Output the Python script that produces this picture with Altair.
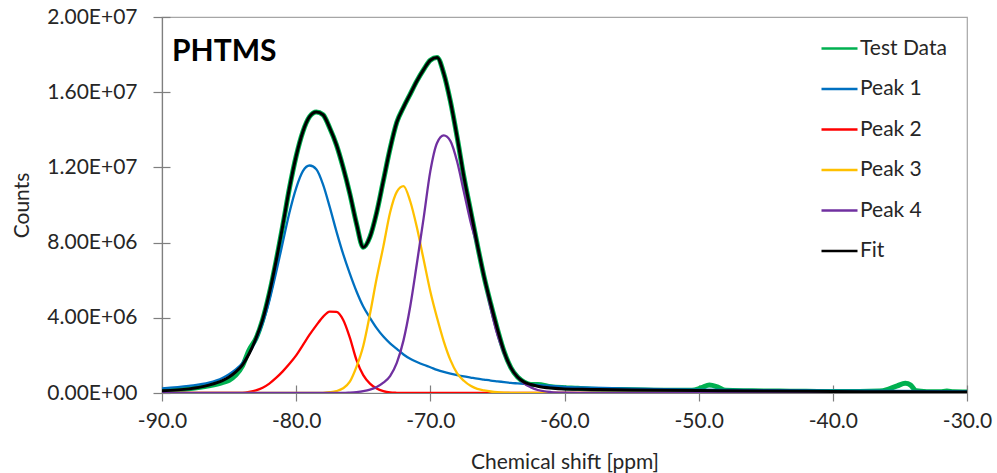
import altair as alt
import pandas as pd

# ---- data (counts in millions) ----
shift_ppm = [-90, -88, -86.5, -85.5, -85, -84.5, -84, -83.5, -83, -82.5,
             -82, -81.5, -81, -80.5, -80, -79.5, -79, -78.5, -78, -77.5,
             -77, -76.5, -76, -75.5, -75, -74.5, -74, -73.5, -73, -72.5,
             -72, -71.5, -71, -70.5, -70, -69.5, -69, -68.5, -68, -67.5,
             -67, -66.5, -66, -65.5, -65, -64.5, -64, -63.5, -63, -62.5,
             -62, -61, -60, -58, -55, -50, -45, -40, -35, -30]

peak1 = [0.25, 0.38, 0.55, 0.8, 1.0, 1.25, 1.6, 2.1, 2.8, 3.7,
         4.9, 6.4, 8.0, 9.6, 10.9, 11.8, 12.1, 11.9, 11.1, 9.9,
         8.6, 7.4, 6.35, 5.4, 4.6, 4.0, 3.45, 3.0, 2.64, 2.35,
         2.05, 1.82, 1.65, 1.5, 1.37, 1.23, 1.12, 1.03, 0.95, 0.88,
         0.82, 0.76, 0.71, 0.66, 0.62, 0.58, 0.54, 0.51, 0.48, 0.45,
         0.43, 0.38, 0.33, 0.29, 0.23, 0.18, 0.15, 0.13, 0.11, 0.09]

peak2 = [0, 0, 0, 0, 0, 0, 0.01, 0.06, 0.14, 0.28,
         0.5, 0.8, 1.15, 1.55, 2.0, 2.55, 3.1, 3.6, 4.05, 4.33,
         4.32, 3.9, 2.95, 1.75, 0.95, 0.5, 0.24, 0.1, 0.03, 0.01,
         0, 0, 0, 0, 0, 0, 0, 0, 0, 0,
         0, 0, 0, 0, 0, 0, 0, 0, 0, 0,
         0, 0, 0, 0, 0, 0, 0, 0, 0, 0]

peak3 = [0, 0, 0, 0, 0, 0, 0, 0, 0, 0,
         0, 0, 0, 0, 0, 0, 0, 0, 0.01, 0.04,
         0.1, 0.25, 0.6, 1.4, 2.5, 4.2, 6.1, 7.8, 9.6, 10.7,
         11.0, 10.2, 8.8, 7.1, 5.4, 4.0, 2.75, 1.75, 1.05, 0.65,
         0.38, 0.22, 0.14, 0.08, 0.04, 0.02, 0.01, 0, 0, 0,
         0, 0, 0, 0, 0, 0, 0, 0, 0, 0]

peak4 = [0, 0, 0, 0, 0, 0, 0, 0, 0, 0,
         0, 0, 0, 0, 0, 0, 0, 0, 0, 0,
         0, 0, 0.02, 0.05, 0.1, 0.18, 0.32, 0.55, 0.9, 1.6,
         2.8, 4.6, 6.9, 9.3, 11.8, 13.3, 13.7, 13.4, 12.3, 10.7,
         9.1, 7.8, 6.2, 4.5, 3.1, 2.1, 1.35, 0.85, 0.5, 0.3,
         0.16, 0.05, 0.02, 0, 0, 0, 0, 0, 0, 0]

fit = [0.12, 0.22, 0.42, 0.66, 0.85, 1.12, 1.5, 2.1, 2.9, 3.9,
       5.3, 7.0, 8.9, 10.9, 12.6, 13.9, 14.7, 14.95, 14.8, 14.1,
       13.2, 12.0, 10.6, 9.0, 7.75, 8.3, 9.6, 11.3, 13.0, 14.4,
       15.2, 15.9, 16.6, 17.2, 17.7, 17.85, 17.0, 15.5, 13.6, 11.5,
       9.7, 7.9, 6.2, 4.75, 3.4, 2.2, 1.35, 0.85, 0.58, 0.45,
       0.36, 0.26, 0.21, 0.19, 0.16, 0.13, 0.1, 0.08, 0.06, 0.05]

test_ppm = [-90, -88, -86.5, -85.5, -85, -84.5, -84, -83.5, -83, -82.5,
            -82, -81.5, -81, -80.5, -80, -79.5, -79, -78.5, -78, -77.5,
            -77, -76.5, -76, -75.5, -75, -74.5, -74, -73.5, -73, -72.5,
            -72, -71.5, -71, -70.5, -70, -69.5, -69, -68.5, -68, -67.5,
            -67, -66.5, -66, -65.5, -65, -64.5, -64, -63.5, -63, -62.5,
            -62, -61, -60, -59, -58, -56, -54, -52, -50.5, -49.8,
            -49.2, -48.6, -48, -46, -44, -42, -40, -38, -36.5, -35.8,
            -35.2, -34.6, -34.2, -33.8, -33, -32, -31.5, -31, -30]

test_data = [0.12, 0.22, 0.38, 0.55, 0.68, 0.95, 1.45, 2.3, 2.9, 3.9,
             5.3, 7.0, 8.9, 10.9, 12.6, 13.9, 14.7, 14.95, 14.8, 14.1,
             13.2, 12.0, 10.6, 9.0, 7.75, 8.3, 9.6, 11.3, 13.0, 14.4,
             15.2, 15.9, 16.6, 17.2, 17.7, 17.85, 17.0, 15.5, 13.6, 11.5,
             9.7, 7.9, 6.2, 4.75, 3.4, 2.2, 1.35, 0.85, 0.58, 0.45,
             0.45, 0.33, 0.28, 0.25, 0.2, 0.18, 0.16, 0.14, 0.14, 0.28,
             0.42, 0.32, 0.14, 0.12, 0.1, 0.09, 0.08, 0.08, 0.1, 0.22,
             0.38, 0.52, 0.42, 0.12, 0.07, 0.06, 0.1, 0.06, 0.05]

series_names = ["Test Data", "Peak 1", "Peak 2", "Peak 3", "Peak 4", "Fit"]
series_colors = ["#00B050", "#0070C0", "#FF0000", "#FFC000", "#7030A0", "#000000"]
x_ticks = [-90, -80, -70, -60, -50, -40, -30]
y_ticks = [0, 4e6, 8e6, 1.2e7, 1.6e7, 2e7]


def frame(name, xs, ys):
    return pd.DataFrame({"ppm": xs, "counts": [v * 1e6 for v in ys], "series": name})


df_test = frame("Test Data", test_ppm, test_data)
df_peaks = pd.concat([
    frame("Peak 1", shift_ppm, peak1),
    frame("Peak 2", shift_ppm, peak2),
    frame("Peak 3", shift_ppm, peak3),
    frame("Peak 4", shift_ppm, peak4),
])
df_fit = frame("Fit", shift_ppm, fit)

FONT = "Lato"
TXT = "#262626"
W, H = 805, 376

x_scale = alt.Scale(domain=[-90, -30], nice=False, zero=False)
y_scale = alt.Scale(domain=[0, 2e7], nice=False)

# main (outer) axes with labels
x_main = alt.X("ppm:Q", scale=x_scale,
               axis=alt.Axis(values=x_ticks, title="Chemical shift [ppm]",
                             labelExpr="(datum.value < 0 ? '-' : '') + format(abs(datum.value), '.1f')",
                             grid=False, tickSize=8, labelPadding=9, titlePadding=20,
                             labelFlush=False, labelOverlap=False))
y_main = alt.Y("counts:Q", scale=y_scale,
               axis=alt.Axis(values=y_ticks, title="Counts", grid=False, tickSize=9,
                             labelPadding=16, titlePadding=14, labelFlush=False,
                             labelOverlap=False,
                             labelExpr="datum.value == 0 ? '0.00E+00' : (datum.value >= 1e7 ? format(datum.value / 1e7, '.2f') + 'E+07' : format(datum.value / 1e6, '.2f') + 'E+06')"))
# inner halves of the crossing ticks
x_inner = alt.X("ppm:Q", scale=x_scale,
                axis=alt.Axis(values=x_ticks, orient="top", offset=-H, labels=False, domain=False,
                              title=None, grid=False, tickSize=8))
y_inner = alt.Y("counts:Q", scale=y_scale,
                axis=alt.Axis(values=y_ticks, orient="right", offset=-W, labels=False, domain=False,
                              title=None, grid=False, tickSize=8))
x_none = alt.X("ppm:Q", scale=x_scale, axis=None)
y_none = alt.Y("counts:Q", scale=y_scale, axis=None)

color_enc = alt.Color("series:N",
                      scale=alt.Scale(domain=series_names, range=series_colors),
                      legend=alt.Legend(title=None, orient="none", legendX=658, legendY=12,
                                        symbolType="stroke", symbolSize=1296, symbolStrokeWidth=2.6,
                                        labelFontSize=21, labelFont=FONT, labelColor=TXT,
                                        rowPadding=10.5, labelOffset=1, direction="vertical"))

test_layer = alt.Chart(df_test).mark_line(strokeWidth=5, interpolate="monotone", clip=True).encode(
    x=x_main, y=y_main, color=color_enc, detail="series:N")
peak_layer = alt.Chart(df_peaks).mark_line(strokeWidth=2.3, interpolate="monotone", clip=True).encode(
    x=x_none, y=y_none, color=color_enc, detail="series:N")
fit_layer = alt.Chart(df_fit).mark_line(strokeWidth=3, interpolate="monotone", clip=True).encode(
    x=x_inner, y=y_inner, color=color_enc, detail="series:N")

chart = alt.layer(test_layer, peak_layer, fit_layer).resolve_axis(
    x="independent", y="independent"
).properties(
    width=W, height=H,
    autosize=alt.AutoSizeParams(type="none"),
    padding={"left": 162, "top": 17, "right": 30, "bottom": 80},
    title=alt.TitleParams("PHTMS", anchor="start", frame="group", fontSize=30, font=FONT,
                          fontWeight="bold", color="#000000", dx=10, dy=65, baseline="top"),
).configure_view(stroke="#a6a6a6", strokeWidth=1.2).configure_axis(
    labelFont=FONT, titleFont=FONT, labelFontSize=21, titleFontSize=21,
    labelColor=TXT, titleColor=TXT, titleFontWeight="normal",
    domainColor="#7f7f7f", tickColor="#7f7f7f", domainWidth=1.2, tickWidth=1.2,
)

chart.save("out.html", embed_options={"renderer": "svg", "actions": False})
